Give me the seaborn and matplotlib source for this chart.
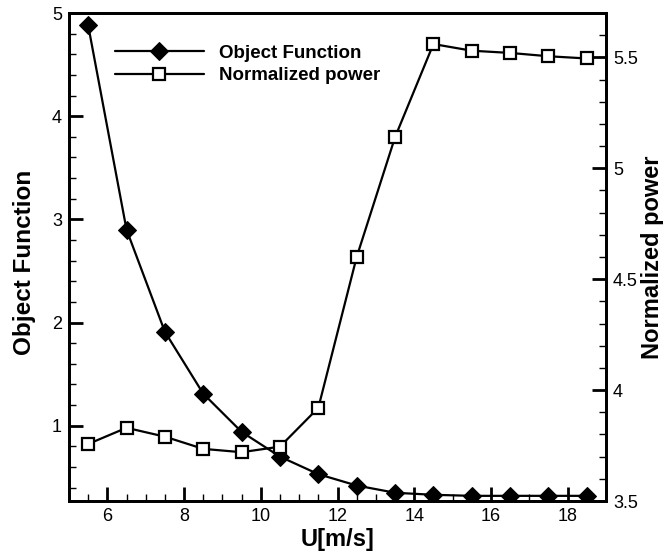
import matplotlib
matplotlib.use("Agg")
import matplotlib.pyplot as plt
import seaborn as sns
import pandas as pd
from matplotlib.ticker import MultipleLocator

wind_speed = [5.5, 6.5, 7.5, 8.5, 9.5, 10.5, 11.5, 12.5, 13.5, 14.5, 15.5, 16.5, 17.5, 18.5]
object_function = [4.88, 2.90, 1.91, 1.31, 0.94, 0.70, 0.53, 0.42, 0.35, 0.33, 0.32, 0.32, 0.32, 0.32]
normalized_power = [3.757, 3.83, 3.79, 3.735, 3.72, 3.745, 3.92, 4.60, 5.14, 5.56, 5.53, 5.52, 5.505, 5.495]

df = pd.DataFrame({"U": wind_speed, "obj": object_function, "power": normalized_power})

sns.set_theme(style="white")
plt.rcParams["font.family"] = ["Liberation Sans", "DejaVu Sans"]
plt.rcParams["text.color"] = "black"
plt.rcParams["axes.labelcolor"] = "black"

fig = plt.figure(figsize=(6.68, 5.53), dpi=100)
ax = fig.add_axes([69/668, 1-501/553, (606-69)/668, (501-13)/553])
ax2 = ax.twinx()

sns.lineplot(data=df, x="U", y="obj", ax=ax, color="black", linewidth=1.6,
             marker="D", markersize=9.5, markerfacecolor="black", markeredgecolor="black",
             label="Object Function", legend=False)
sns.lineplot(data=df, x="U", y="power", ax=ax2, color="black", linewidth=1.6,
             marker="s", markersize=9, markerfacecolor="white", markeredgecolor="black",
             markeredgewidth=1.6, label="Normalized power", legend=False)

ax.set_xlim(5, 19)
ax.set_ylim(0.27, 5)
ax2.set_ylim(3.5, 5.7)

ax.xaxis.set_major_locator(MultipleLocator(2))
ax.xaxis.set_minor_locator(MultipleLocator(0.5))
ax.yaxis.set_major_locator(MultipleLocator(1))
ax.yaxis.set_minor_locator(MultipleLocator(0.2))
ax2.yaxis.set_minor_locator(MultipleLocator(0.1))
ax2.set_yticks([3.5, 4, 4.5, 5, 5.5])
ax2.set_yticklabels(["3.5", "4", "4.5", "5", "5.5"])

for a in (ax, ax2):
    for s in a.spines.values():
        s.set_linewidth(2)
        s.set_color("black")

ax.tick_params(axis="both", which="major", direction="in", length=10, width=2,
               labelsize=13, colors="black", pad=5)
ax.tick_params(axis="both", which="minor", direction="in", length=5, width=1, colors="black")
ax.tick_params(axis="x", top=False, bottom=True, which="both")
ax.tick_params(axis="y", right=False, left=True, which="both")
ax2.tick_params(axis="y", which="major", direction="in", length=10, width=2,
                labelsize=13, colors="black", pad=5, right=True)
ax2.tick_params(axis="y", which="minor", direction="in", length=5, width=1, colors="black", right=True)

ax.set_xlabel("U[m/s]", fontsize=17, fontweight="bold", color="black")
ax.set_ylabel("Object Function", fontsize=17.5, fontweight="bold", color="black")
ax2.set_ylabel("Normalized power", fontsize=17, fontweight="bold", color="black")
ax.xaxis.set_label_coords(0.5, -0.055)
ax.yaxis.set_label_coords(-0.062, 0.49)
ax2.yaxis.set_label_coords(1.066, 0.5)

h1, l1 = ax.get_legend_handles_labels()
h2, l2 = ax2.get_legend_handles_labels()
leg = ax2.legend(h1 + h2, l1 + l2, loc="upper left", bbox_to_anchor=(0.055, 0.97),
                 frameon=False, handlelength=4.7, handletextpad=0.8,
                 labelspacing=0.3, prop={"weight": "bold", "size": 13.5})
for t in leg.get_texts():
    t.set_color("black")

fig.savefig("out.png", dpi=100)
